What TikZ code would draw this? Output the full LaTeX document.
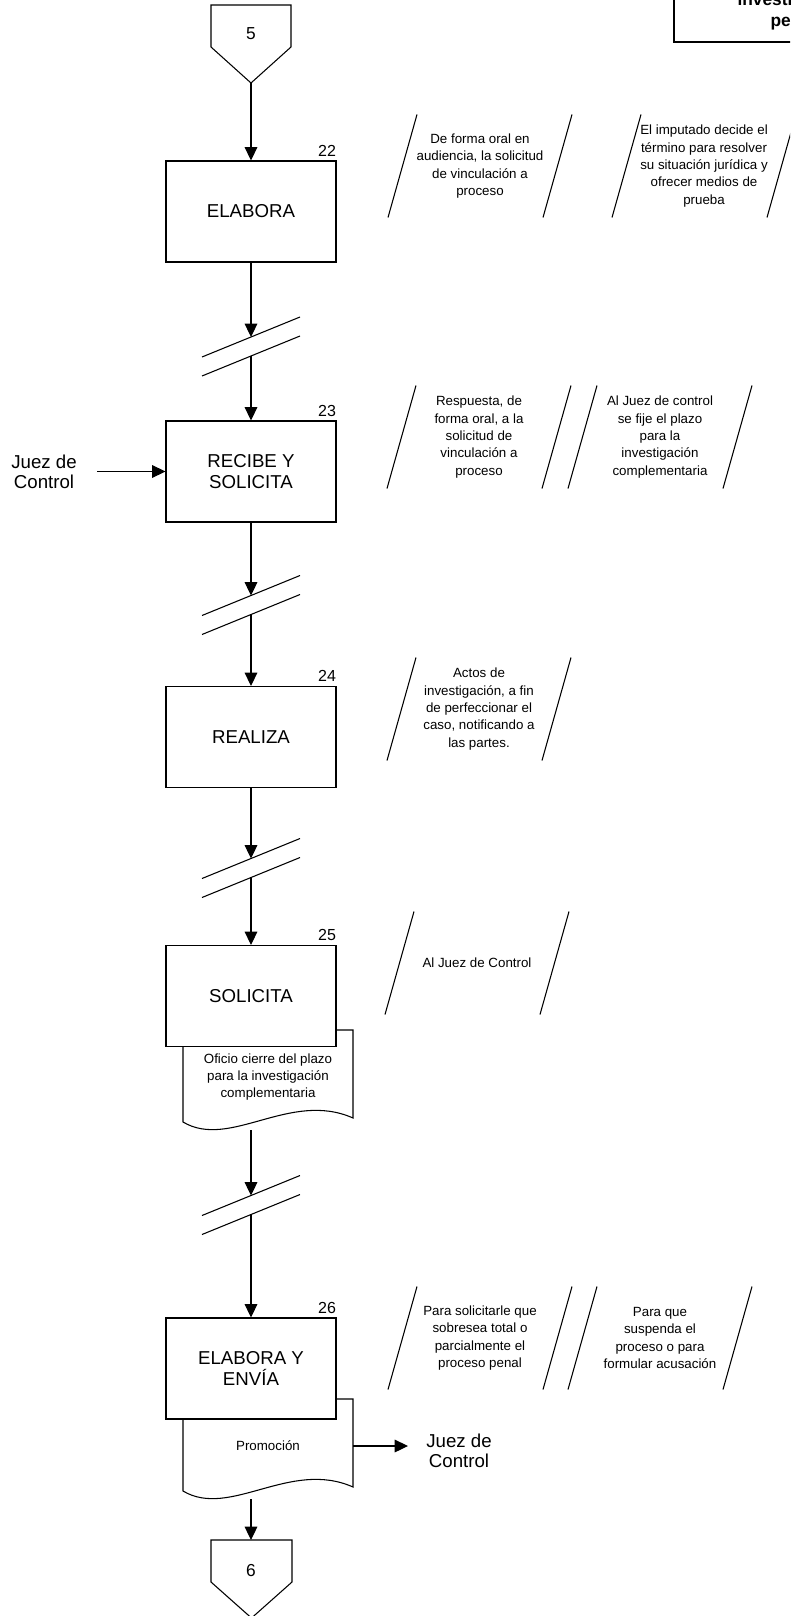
\documentclass[tikz,border=0pt]{standalone}
\usepackage{fontspec}
\setmainfont{Liberation Sans}
\usetikzlibrary{arrows.meta,calc}

\tikzstyle{proc} = [draw, fill=white, minimum width=127.5pt, minimum height=75.75pt, inner sep=0pt, align=center, font=\fontsize{14}{15.5}\selectfont]
\tikzstyle{num} = [anchor=base east, inner sep=0pt, yshift=3pt, font=\fontsize{12}{14}\selectfont]
\tikzstyle{nota} = [align=center, inner sep=0pt, font=\fontsize{10}{13}\selectfont]
\tikzstyle{ext} = [align=center, inner sep=0pt, font=\fontsize{14}{15}\selectfont]
\tikzstyle{titulo} = [anchor=base west, inner sep=0pt, font=\bfseries\fontsize{13}{15}\selectfont]
\tikzstyle{flecha} = [-{Triangle[length=10pt,width=9.5pt]}]

% nota entre diagonales
\newcommand{\nota}[4]{%
  \node[nota] (#1) at (#2,#3) {#4};
  \draw ($(#1)+(-63,-51.5)$) -- ($(#1)+(-92,51.5)$)
        ($(#1)+(92,-51.5)$) -- ($(#1)+(63,51.5)$);}

% corte de la linea de flujo
\newcommand{\corte}[2]{%
  \coordinate (#1a) at (251,#2-9.5);
  \coordinate (#1b) at (251,#2+9.5);
  \draw ($(#1a)+(-49,20)$) -- ($(#1a)+(49,-20)$);
  \draw ($(#1b)+(-49,20)$) -- ($(#1b)+(49,-20)$);}

\begin{document}
\begin{tikzpicture}[x=0.75pt, y=-0.75pt, line width=0.8pt]
\clip (0,0) rectangle (790,1616);
\useasboundingbox (0,0) rectangle (790,1616);

% encabezado
\draw[line width=1.5pt] (674,-10) rectangle (830,42);
\node[titulo] (tit1) at (737,6) {investigación};
\node[titulo] (tit2) at (770,27) {periodo};

% conector 5
\draw (211,5) -- (291,5) -- (291,47) -- (251,83) -- (211,47) -- cycle;
\node[font=\fontsize{13}{15}\selectfont] (c5) at (251,34) {5};
\coordinate (c5tip) at (251,83);

% documentos
\draw[fill=white] (183,1030) -- (353,1030) -- (353,1118)
  .. controls (290,1090) and (230,1150) .. (183,1122) -- cycle;
\draw[fill=white] (183,1399) -- (353,1399) -- (353,1487)
  .. controls (290,1459) and (230,1519) .. (183,1491) -- cycle;

% actividades
\node[proc] (b22) at (251,211.5) {ELABORA};
\node[proc] (b23) at (251,471.5) {RECIBE Y\\SOLICITA};
\node[proc] (b24) at (251,737) {REALIZA};
\node[proc] (b25) at (251,996) {SOLICITA};
\node[proc] (b26) at (251,1368.5) {ELABORA Y\\ENVÍA};
\node[num] at (b22.north east) {22};
\node[num] at (b23.north east) {23};
\node[num] at (b24.north east) {24};
\node[num] at (b25.north east) {25};
\node[num] at (b26.north east) {26};

\node[nota] (d25) at (268,1077) {Oficio cierre del plazo\\para la investigación\\complementaria};
\node[nota] (d26) at (268,1446) {Promoción};
\coordinate (d25b) at (251,1130);
\coordinate (d26b) at (251,1499);
\coordinate (d26r) at (353,1446);

% notas
\nota{n22a}{480}{166}{De forma oral en\\audiencia, la solicitud\\de vinculación a\\proceso}
\nota{n22b}{704}{166}{El imputado decide el\\término para resolver\\su situación jurídica y\\ofrecer medios de\\prueba}
\nota{n23a}{479}{437}{Respuesta, de\\forma oral, a la\\solicitud de\\vinculación a\\proceso}
\nota{n23b}{660}{437}{Al Juez de control\\se fije el plazo\\para la\\investigación\\complementaria}
\nota{n24}{479}{709}{Actos de\\investigación, a fin\\de perfeccionar el\\caso, notificando a\\las partes.}
\nota{n25}{477}{963}{Al Juez de Control}
\nota{n26a}{480}{1338}{Para solicitarle que\\sobresea total o\\parcialmente el\\proceso penal}
\nota{n26b}{660}{1338}{Para que\\suspenda el\\proceso o para\\formular acusación}

% externos
\node[ext] (jc1) at (44,472) {Juez de\\Control};
\coordinate (jc1out) at (97,471.5);
\node[ext] (jc2) at (459,1451) {Juez de\\Control};
\coordinate (jc2in) at (408,1446);

% conector 6
\draw (211,1540) -- (292,1540) -- (292,1582) -- (251.5,1618) -- (211,1582) -- cycle;
\node[font=\fontsize{13}{15}\selectfont] (c6) at (251,1571) {6};
\coordinate (c6top) at (251,1540);

% cortes
\corte{r1}{346.5}
\corte{r2}{605}
\corte{r3}{868}
\corte{r4}{1205}

% flujo
\draw[flecha] (c5tip) -- (b22);
\draw[flecha] (b22) -- (r1a);
\draw[flecha] (r1b) -- (b23);
\draw[flecha] (jc1out) -- (b23);
\draw[flecha] (b23) -- (r2a);
\draw[flecha] (r2b) -- (b24);
\draw[flecha] (b24) -- (r3a);
\draw[flecha] (r3b) -- (b25);
\draw[flecha] (d25b) -- (r4a);
\draw[flecha] (r4b) -- (b26);
\draw[flecha] (d26r) -- (jc2in);
\draw[flecha] (d26b) -- (c6top);
\end{tikzpicture}
\end{document}
